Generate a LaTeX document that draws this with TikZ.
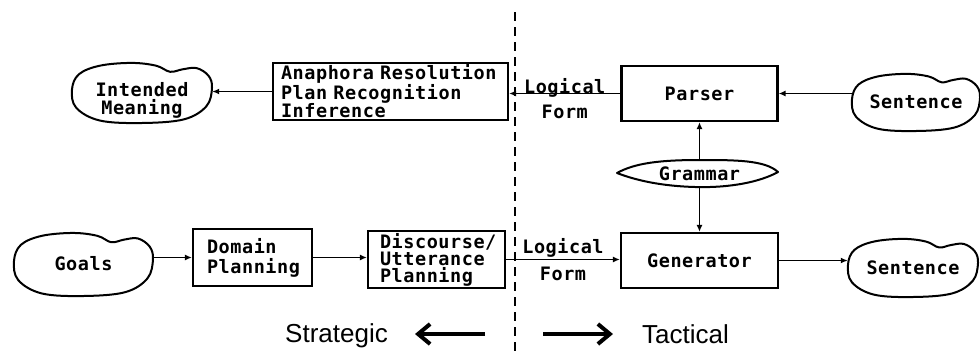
\documentclass[tikz,border=0pt]{standalone}
\usepackage{fontspec}
\setmainfont{Liberation Sans}
\newfontfamily\plotfont{DejaVu Sans Mono}[LetterSpace=3, WordSpace=1.4]
\usetikzlibrary{arrows.meta,calc}

% outline of a cloud around a node: #1 node, #2 vertical offset, #3/#4 half width/height
\newcommand\cloudoutline[4]{%
  \draw[cloudline, shift={($(#1.center)+(0,#2)$)}, x=#3pt, y=#4pt]
    plot[smooth cycle, tension=0.6] coordinates {
      (-1.00,0.10) (-0.90,0.60) (-0.60,0.88) (-0.15,0.97) (0.20,0.88)
      (0.40,0.68) (0.58,0.76) (0.78,0.80) (0.95,0.55) (1.00,0.15)
      (0.92,-0.45) (0.60,-0.88) (0.00,-1.00) (-0.60,-0.92) (-0.94,-0.50)};}

\begin{document}
\begin{tikzpicture}[x=1pt, y=-1pt,
  every node/.style={font=\plotfont\bfseries\fontsize{18.5}{18}\selectfont, inner sep=0pt},
  blk/.style={draw, line width=2.2pt},
  cloudline/.style={line width=2pt, line join=round},
  arr/.style={line width=1.8pt, -{Latex[length=7pt,width=6pt]}},
  lbl/.style={anchor=base},
  big/.style={line width=4pt, -{Straight Barb[length=12pt,width=20pt]}},
  side/.style={font=\normalfont\fontsize{26}{28}\selectfont},
  divider/.style={line width=2pt, dash pattern=on 9pt off 6pt}]

\useasboundingbox[fill=white] (0,0) rectangle (980,354);

% strategic / tactical divider
\coordinate (dtop) at (515,12);
\coordinate (dbot) at (515,354);
\draw[divider] (dtop) -- (dbot);

% understanding path (top row)
\node (intended) at (142,100) [minimum width=140pt, minimum height=61pt, align=center]
  {Intended\\Meaning};
\cloudoutline{intended}{-7.5}{70}{30.5}

\node[blk, minimum width=235pt, minimum height=57pt, text width=219pt,
  inner xsep=8pt, align=left] (anaph) at (390.5,91.5)
  {Anaphora Resolution\\Plan Recognition\\Inference};

\node[blk, minimum width=156pt, minimum height=55pt] (parser) at (699.5,93.5) {Parser};

\node (sentin) at (916,102) [minimum width=128pt, minimum height=58pt] {Sentence};
\cloudoutline{sentin}{0}{64}{29}

% shared grammar
\node (grammar) at (699.5,173.5) [minimum width=160pt, minimum height=27pt] {Grammar};
\draw[cloudline] (617,173) .. controls (635,163) and (660,160) .. (700,160)
  .. controls (735,160) and (765,160) .. (778,172)
  .. controls (760,182) and (730,188) .. (695,187)
  .. controls (660,186) and (635,180) .. (617,173) -- cycle;

% generation path (bottom row)
\node (goals) at (83.5,264) [minimum width=139pt, minimum height=64pt] {Goals};
\cloudoutline{goals}{0}{69.5}{32}

\node[blk, minimum width=119pt, minimum height=57pt, text width=91pt,
  inner xsep=14pt, align=left, font=\plotfont\bfseries\fontsize{18.5}{20}\selectfont]
  (domain) at (252.5,257.5) {Domain\\Planning};

\node[blk, minimum width=137pt, minimum height=57pt, text width=113pt,
  inner xsep=12pt, align=left, font=\plotfont\bfseries\fontsize{18.5}{17}\selectfont]
  (discourse) at (436.5,259.5) {Discourse/\\Utterance\\Planning};

\node[blk, minimum width=157pt, minimum height=55pt] (generator) at (699.5,260.5) {Generator};

\node (sentout) at (913,267.5) [minimum width=130pt, minimum height=59pt] {Sentence};
\cloudoutline{sentout}{0}{65}{29.5}

% connectors
\draw[arr] (parser.east -| sentin.west) -- (parser.east);
\draw[arr] (parser.west) -- (parser.west -| anaph.east)
  node[lbl, midway, yshift=0pt] {Logical}
  node[lbl, midway, yshift=-25pt] {Form};
\draw[arr] (anaph.west) -- (anaph.west -| intended.east);
\draw[arr] (grammar.north) -- (parser.south);
\draw[arr] (grammar.south) -- (generator.north);

\draw[arr] (goals.east |- domain.west) -- (domain.west);
\draw[arr] (domain.east) -- (domain.east -| discourse.west);
\draw[arr] (discourse.east) -- (discourse.east -| generator.west)
  node[lbl, midway, yshift=6pt] {Logical}
  node[lbl, midway, yshift=-21pt] {Form};
\draw[arr] (generator.east) -- (generator.east -| sentout.west);

% direction legend
\node[side, anchor=base east] (strat) at (388,342) {Strategic};
\node[side, anchor=base west] (tact) at (642,343) {Tactical};
\coordinate (lfrom) at (485,334);
\coordinate (lto) at (415,334);
\coordinate (rfrom) at (543,334);
\coordinate (rto) at (613,334);
\draw[big] (lfrom) -- (lto);
\draw[big] (rfrom) -- (rto);
\end{tikzpicture}
\end{document}
